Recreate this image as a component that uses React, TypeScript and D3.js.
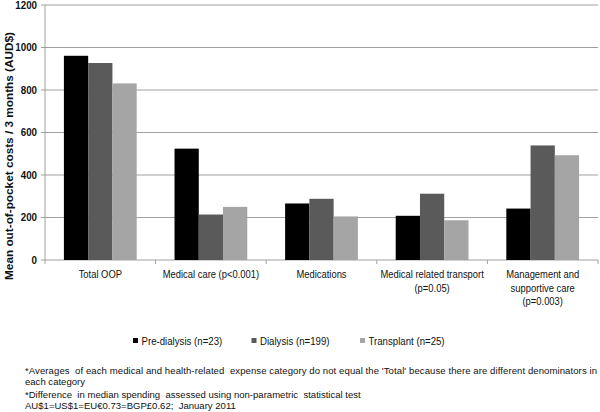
import React from "react";
import * as d3 from "d3";

const categories = [
  ["Total OOP"],
  ["Medical care (p<0.001)"],
  ["Medications"],
  ["Medical related transport", "(p=0.05)"],
  ["Management and", "supportive care", "(p=0.003)"],
];
const seriesNames = ["Pre-dialysis (n=23)", "Dialysis (n=199)", "Transplant (n=25)"];
const seriesColors = ["#000000", "#5a5a5a", "#a5a5a5"];
const preDialysis = [961, 524, 266, 208, 242];
const dialysis = [927, 214, 288, 312, 539];
const transplant = [831, 250, 205, 187, 493];
const yTicks = [0, 200, 400, 600, 800, 1000, 1200];
const footnotes = [
  "*Averages  of each medical and health-related  expense category do not equal the 'Total' because there are different denominators in",
  "each category",
  "*Difference  in median spending  assessed using non-parametric  statistical test",
  "AU$1=US$1=EU€0.73=BGP£0.62;  January 2011",
];

const FONT = "'Liberation Sans', Arial, sans-serif";

function NT(props: {
  x: number;
  y: number;
  anchor?: string;
  size: number;
  weight?: string;
  len?: number;
  sx?: number;
  children: React.ReactNode;
}) {
  const sx = props.sx ?? 0.84;
  const extra: any = props.len ? { textLength: props.len / sx, lengthAdjust: "spacing" } : {};
  return (
    <text
      transform={`translate(${props.x},${props.y}) scale(${sx},1)`}
      textAnchor={props.anchor || "start"}
      fontSize={props.size}
      fontWeight={props.weight || "normal"}
      fill="#111"
      style={{ whiteSpace: "pre" }}
      {...extra}
    >
      {props.children}
    </text>
  );
}

export default function App() {
  const series = [preDialysis, dialysis, transplant];
  const left = 45, right = 598, top = 5, bottom = 260;
  const y = d3.scaleLinear().domain([0, 1200]).range([bottom, top]);
  const x0 = d3.scaleBand<number>().domain(d3.range(categories.length)).range([left, right]).padding(0);
  const x1 = d3.scaleBand<number>().domain(d3.range(series.length)).range([0, x0.bandwidth()]).paddingInner(0).paddingOuter(0.78);
  const grid = "#a0a0a0";

  return (
    <svg width={600} height={412} style={{ position: "absolute", left: 0, top: 0, background: "#fff" }} fontFamily={FONT}>
      <rect x={0} y={0} width={600} height={412} fill="#fff" />
      {yTicks.map((t) => (
        <g key={t}>
          <line x1={left - 4} x2={right} y1={y(t)} y2={y(t)} stroke={grid} strokeWidth={1} />
          <NT x={37} y={y(t) + 3.8} anchor="end" size={10.5} weight="bold" sx={0.93}>{String(t)}</NT>
        </g>
      ))}
      <line x1={left} x2={left} y1={top} y2={bottom} stroke={grid} strokeWidth={1} />
      {d3.range(categories.length + 1).map((i) => {
        const xx = i < categories.length ? x0(i)! : right;
        return <line key={i} x1={xx} x2={xx} y1={bottom} y2={bottom + 4} stroke={grid} strokeWidth={1} />;
      })}
      {series.map((vals, si) =>
        vals.map((v, ci) => (
          <rect
            key={si + "-" + ci}
            x={x0(ci)! + x1(si)!}
            y={y(v)}
            width={x1.bandwidth()}
            height={bottom - y(v)}
            fill={seriesColors[si]}
          />
        ))
      )}
      {categories.map((lines, ci) =>
        lines.map((l, li) => (
          <NT key={ci + "-" + li} x={x0(ci)! + x0.bandwidth() / 2} y={278 + li * 13.5} anchor="middle" size={11.2}>
            {l}
          </NT>
        ))
      )}
      <text
        transform={`translate(13,156) rotate(-90)`}
        textAnchor="middle"
        fontSize={11}
        fontWeight="bold"
        fill="#111"
        textLength={248}
        lengthAdjust="spacingAndGlyphs"
      >
        Mean out-of-pocket costs / 3 months (AUD$)
      </text>
      {seriesNames.map((n, si) => {
        const lx = [133, 251.5, 360][si];
        return (
          <g key={n}>
            <rect x={lx} y={338} width={5} height={5} fill={seriesColors[si]} />
            <NT x={lx + 8.5} y={344.5} size={11.5}>{n}</NT>
          </g>
        );
      })}
      {footnotes.map((f, i) => (
        <NT key={i} x={25} y={[373.5, 385, 397.5, 408.5][i]} size={9.55} sx={1} len={i === 0 ? 572 : undefined}>
          {f}
        </NT>
      ))}
    </svg>
  );
}
